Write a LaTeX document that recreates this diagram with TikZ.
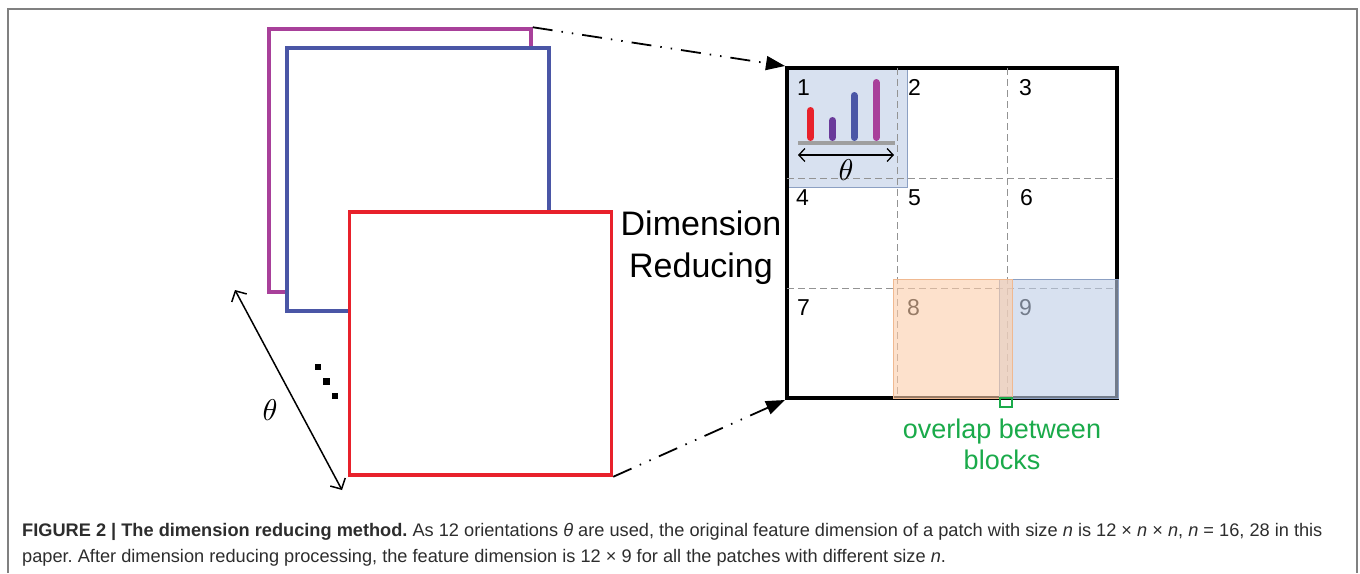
\documentclass[tikz,border=0pt]{standalone}
\usepackage{fontspec}
\setmainfont{Liberation Sans}
\usetikzlibrary{arrows.meta}

\definecolor{sheetmag}{RGB}{168,64,154}
\definecolor{sheetblue}{RGB}{74,86,166}
\definecolor{sheetred}{RGB}{232,33,43}
\definecolor{barpurple}{RGB}{106,58,154}
\definecolor{patchblue}{RGB}{190,205,230}
\definecolor{patchblueline}{RGB}{140,160,195}
\definecolor{patchorange}{RGB}{252,205,170}
\definecolor{patchorangeline}{RGB}{240,185,145}
\definecolor{ovlgreen}{RGB}{26,170,74}
\definecolor{captext}{RGB}{45,45,45}

\begin{document}
\frenchspacing
\begin{tikzpicture}
  [x=1pt, y=-1pt,
   sheet/.style={draw, fill=white, line width=3.5pt, rectangle, inner sep=0pt,
                 minimum width=262pt, minimum height=263pt},
   flow/.style={line width=1.8pt, -{Triangle[length=19pt,width=14pt]},
                dash pattern=on 20pt off 9pt on 1.5pt off 9pt on 1.5pt off 9pt},
   cellnum/.style={anchor=base west, inner sep=0pt, font=\fontsize{23}{23}\selectfont},
   patch/.style={rectangle, inner sep=0pt, minimum width=119pt, minimum height=119pt,
                 line width=1pt, fill opacity=0.6},
   bar/.style={line width=7pt, line cap=round},
   gridline/.style={gray!85, line width=1pt, dash pattern=on 7pt off 4pt},
   captionline/.style={anchor=base west, inner sep=0pt, text=captext, font=\fontsize{18.2}{18.2}\selectfont}]

  \useasboundingbox (0,0) rectangle (1360,573);

  % frame of the figure
  \draw[black!50, line width=2pt] (8,573) -- (8,9) -- (1357,9) -- (1357,573);

  % stack of orientation maps
  \node[sheet, draw=sheetmag]  (sheetA) at (400,160.5) {};
  \node[sheet, draw=sheetblue] (sheetB) at (418,179.5) {};
  \node[sheet, draw=sheetred]  (sheetC) at (480.5,343.5) {};

  \coordinate (thA) at (235,290);
  \coordinate (thB) at (342,490);
  \draw[line width=1.5pt, {Straight Barb[length=8pt,width=17pt]}-{Straight Barb[length=8pt,width=17pt]}] (thA) -- (thB);
  \node[scale=3] (thlabel) at (270,410) {$\theta$};
  \foreach \x/\y [count=\i] in {318/367, 326.5/381.5, 335/396}
    \fill (\x-3.2,\y-3.2) rectangle (\x+3.2,\y+3.2);

  % reduced map
  \node[patch, fill=patchblue, draw=patchblueline] (patchA) at (847.5,127.5) {};
  \node[rectangle, draw, line width=4pt, inner sep=0pt, minimum size=330pt] (grid) at (952,233) {};
  \foreach \t in {897.5,1007.5}
    \draw[gridline] (\t,68) -- (\t,398);
  \foreach \t in {178,288}
    \draw[gridline] (787,\t) -- (1117,\t);
  \foreach \n/\x/\y in {1/797/95, 2/908/95, 3/1019/95,
                        4/796/205, 5/908/205, 6/1020/205,
                        7/797/315, 8/907/315, 9/1019/315}
    \node[cellnum] (num\n) at (\x,\y) {\n};

  \draw[flow] (sheetA.north east) -- (grid.north west);
  \draw[flow] (sheetC.south east) -- (grid.south west);

  \node (dimred) at (701,248) [align=center, font=\fontsize{34}{42}\selectfont] {Dimension\\Reducing};

  % blocks 9 and 8
  \node[patch, fill=patchblue, draw=patchblueline] (patchI) at (1059,339) {};
  \node[patch, fill=patchorange, draw=patchorangeline] (patchH) at (952.5,339) {};

  % histogram inside block 1
  \draw[bar, sheetred]  (810.5,110.5) -- (810.5,137.5);
  \draw[bar, barpurple] (832.5,120.5) -- (832.5,137.5);
  \draw[bar, sheetblue] (854,95.5) -- (854,137.5);
  \draw[bar, sheetmag]  (876,82.5) -- (876,137.5);
  \draw[gray!75, line width=4pt] (798,143) -- (895,143);
  \draw[line width=1.3pt, {Straight Barb[length=6pt,width=13pt]}-{Straight Barb[length=6pt,width=13pt]}] (798,155) -- (894,155);
  \node[scale=3] (thpatch) at (846,170) {$\theta$};

  % overlap marker
  \node[draw=ovlgreen, line width=1.3pt, rectangle, inner sep=0pt, minimum width=12pt, minimum height=9pt] (ovl) at (1006,402.5) {};
  \node[ovlgreen, align=center, font=\fontsize{27}{31}\selectfont] (ovltext) at (1002,444) {overlap between\\blocks};

  % caption
  \node[captionline] (cap1) at (22,536)
    {\textbf{FIGURE 2 | The dimension reducing method.} As 12 orientations \textit{θ} are used, the original feature dimension of a patch with size \textit{n} is 12 × \textit{n} × \textit{n}, \textit{n} = 16, 28 in this};
  \node[captionline] (cap2) at (22,562)
    {paper. After dimension reducing processing, the feature dimension is 12 × 9 for all the patches with different size \textit{n}.};
\end{tikzpicture}
\end{document}
